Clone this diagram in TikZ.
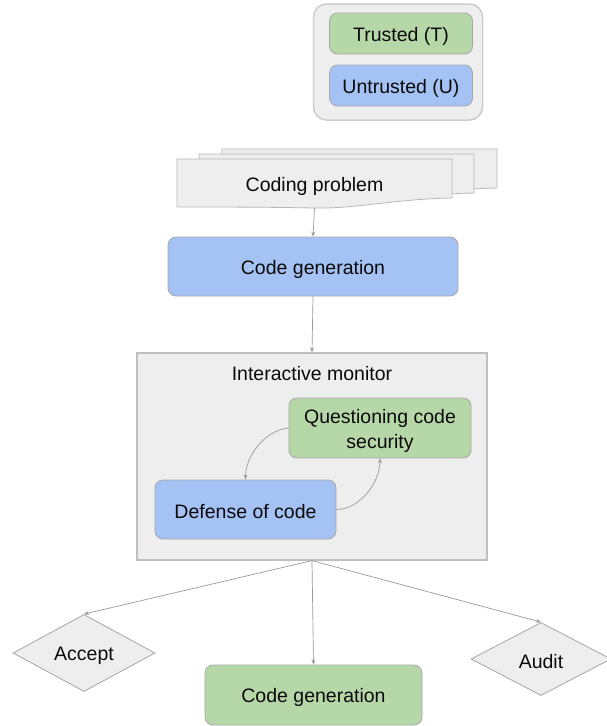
\documentclass[tikz,border=0pt]{standalone}
\usepackage{fontspec}
\setmainfont{Liberation Sans}
\usetikzlibrary{shapes.geometric,arrows.meta}
\definecolor{gfill}{HTML}{B6D7A8}
\definecolor{bfill}{HTML}{A4C2F4}
\definecolor{grfill}{HTML}{EEEEEE}
\definecolor{edgec}{HTML}{A8A8A8}
\definecolor{arrc}{HTML}{9A9A9A}
\definecolor{txtc}{HTML}{0A0A0A}
\newcommand{\dn}[1]{\raisebox{-2.5pt}[\height][\depth]{#1}}
\begin{document}
\begin{tikzpicture}[x=1pt,y=-1pt,
  lbl/.style={inner sep=0pt, align=center, text=txtc, font=\fontsize{19.5}{25}\selectfont},
  box/.style={lbl, draw=edgec, line width=0.8pt, rounded corners=8pt},
  greenbox/.style={box, fill=gfill},
  bluebox/.style={box, fill=bfill},
  docshape/.style={draw=black!28, line width=0.8pt, fill=grfill},
  decision/.style={lbl, shape=diamond, draw=black!35, line width=0.8pt, fill=grfill},
  conn/.style={draw=arrc, line width=0.7pt, -{Stealth[length=5pt,width=4pt]}}
]
\useasboundingbox (0,0) rectangle (607,726);
\fill[white] (0,0) rectangle (607,726);

% legend
\node[draw=black!20, line width=1.5pt, fill=grfill, rounded corners=13pt,
      minimum width=169pt, minimum height=116pt, inner sep=0pt] (legend) at (398,62) {};
\node[greenbox, minimum width=143pt, minimum height=41pt] (trusted) at (401,33.5) {\dn{Trusted (T)}};
\node[bluebox, minimum width=143pt, minimum height=41pt] (untrusted) at (401,85.5) {\dn{Untrusted (U)}};

% stacked documents
\foreach \dx/\dy in {45/-10, 22/-5, 0/0}{
  \draw[docshape, shift={(\dx,\dy)}] (177,159) -- (452,159) -- (452,198)
     .. controls (395,199) and (355,209) .. (314,208)
     .. controls (265,207) and (220,207) .. (177,207) -- cycle;
}
\node[lbl, minimum width=275pt, minimum height=49pt] (prob) at (314.5,183.5) {\dn{Coding problem}};

% code generation (untrusted)
\node[bluebox, minimum width=290pt, minimum height=59pt] (gen1) at (313,266.5) {\dn{Code generation}};

% interactive monitor
\node[draw=black!25, line width=1.2pt, fill=grfill, minimum width=350pt, minimum height=207pt, inner sep=0pt] (monitor) at (312,456.5) {};
\node[lbl] (montitle) at (312,374) {Interactive monitor};
\node[greenbox, minimum width=182pt, minimum height=60pt] (quest) at (380,428) {\dn{\begin{tabular}{@{}c@{}}Questioning code\\security\end{tabular}}};
\node[bluebox, minimum width=181pt, minimum height=59pt] (defense) at (245.5,509.5) {\dn{Defense of code}};

% outcomes
\node[decision, minimum width=142pt, minimum height=70pt] (accept) at (84,653) {\dn{Accept}};
\node[decision, minimum width=140pt, minimum height=73pt] (audit) at (541,659) {\dn{Audit}};
\node[greenbox, minimum width=217pt, minimum height=60pt] (gen2) at (313.5,695) {\dn{Code generation}};

% connectors
\draw[conn] (prob.south) -- (gen1.north);
\draw[conn] (gen1.south) -- (monitor.north);
\draw[conn] (quest.west) to[out=185,in=90,looseness=0.9] (defense.north);
\draw[conn] (defense.east) to[out=0,in=-90,looseness=0.9] (quest.south);
\draw[conn] (monitor.south) -- (accept.north);
\draw[conn] (monitor.south) -- (gen2.north);
\draw[conn] (monitor.south) -- (audit.north);
\end{tikzpicture}
\end{document}
